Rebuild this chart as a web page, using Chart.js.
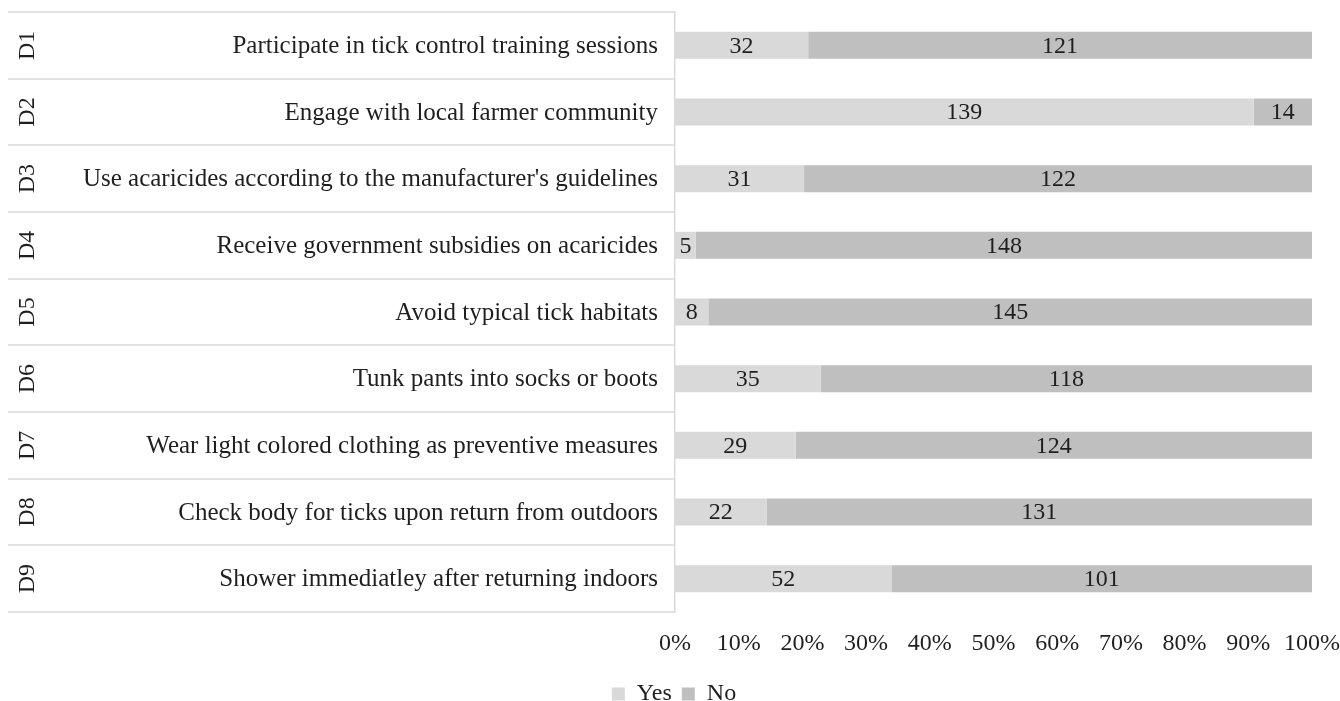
<!DOCTYPE html>
<html>
<head>
<meta charset="utf-8">
<script src="https://cdn.jsdelivr.net/npm/chart.js@4.4.0/dist/chart.umd.min.js"></script>
<style>
  html, body { margin: 0; padding: 0; background: #fff; }
  #wrap { width: 1340px; height: 701px; }
</style>
</head>
<body>
<div id="wrap"><canvas id="chart"></canvas></div>
<script>
// question codes and wording
const codes = ["D1", "D2", "D3", "D4", "D5", "D6", "D7", "D8", "D9"];
const items = [
    "Participate in tick control training sessions",
    "Engage with local farmer community",
    "Use acaricides according to the manufacturer's guidelines",
    "Receive government subsidies on acaricides",
    "Avoid typical tick habitats",
    "Tunk pants into socks or boots",
    "Wear light colored clothing as preventive measures",
    "Check body for ticks upon return from outdoors",
    "Shower immediatley after returning indoors"
];

// answer counts
const yesCounts = [32, 139, 31, 5, 8, 35, 29, 22, 52];
const noCounts = [121, 14, 122, 148, 145, 118, 124, 131, 101];

// x axis ticks (percent)
const pctTicks = [0, 10, 20, 30, 40, 50, 60, 70, 80, 90, 100];

const FONT = "'Liberation Serif', 'Times New Roman', serif";
const FSIZE = 24;
const TEXT = "#1f1f1f";
const LINE = "#d9d9d9";

const toPct = (arr) => arr.map((v, i) => v / (yesCounts[i] + noCounts[i]) * 100);

// =========================
// LABEL TABLE (row lines, rotated codes, wording)
// =========================
const rowTable = {
    id: "rowTable",
    afterDraw(chart) {
        const { ctx, chartArea, scales } = chart;
        const y = scales.y;
        const band = y.getPixelForValue(1) - y.getPixelForValue(0);
        ctx.save();
        ctx.strokeStyle = LINE;
        ctx.lineWidth = 1.5;
        for (let i = 0; i <= codes.length; i++) {
            const py = Math.round(y.getPixelForValue(i) - band / 2);
            ctx.beginPath();
            ctx.moveTo(8, py);
            ctx.lineTo(chartArea.left, py);
            ctx.stroke();
        }
        ctx.fillStyle = TEXT;
        ctx.textBaseline = "middle";
        ctx.font = FSIZE + "px " + FONT;
        codes.forEach((c, i) => {
            ctx.save();
            ctx.translate(28, y.getPixelForValue(i));
            ctx.rotate(-Math.PI / 2);
            ctx.textAlign = "center";
            ctx.fillText(c, 0, 0);
            ctx.restore();
        });
        ctx.font = "25px " + FONT;
        ctx.textAlign = "right";
        items.forEach((t, i) => {
            ctx.fillText(t, chartArea.left - 17, y.getPixelForValue(i) + 1);
        });
        ctx.restore();
    }
};

// =========================
// COUNT LABELS ON BARS
// =========================
const countLabels = {
    id: "countLabels",
    afterDatasetsDraw(chart) {
        const { ctx } = chart;
        const counts = [yesCounts, noCounts];
        ctx.save();
        ctx.fillStyle = TEXT;
        ctx.font = FSIZE + "px " + FONT;
        ctx.textAlign = "center";
        ctx.textBaseline = "middle";
        chart.data.datasets.forEach((ds, d) => {
            chart.getDatasetMeta(d).data.forEach((bar, i) => {
                const p = bar.getCenterPoint();
                ctx.fillText(String(counts[d][i]), p.x, p.y + 1);
            });
        });
        ctx.restore();
    }
};

new Chart(document.getElementById("chart"), {
    type: "bar",
    data: {
        labels: items,
        datasets: [
            { label: "Yes", data: toPct(yesCounts), backgroundColor: "#d9d9d9" },
            { label: "No", data: toPct(noCounts), backgroundColor: "#bfbfbf" }
        ]
    },
    options: {
        indexAxis: "y",
        responsive: true,
        maintainAspectRatio: false,
        animation: false,
        layout: { padding: { top: 12, left: 8, right: 0, bottom: -15 } },
        datasets: { bar: { categoryPercentage: 1, barPercentage: 0.405 } },
        scales: {
            x: {
                stacked: true,
                min: 0,
                max: 100,
                afterFit: s => { s.height = 60; },
                grid: { display: false, drawTicks: true, tickLength: 17 },
                border: { display: false },
                ticks: {
                    stepSize: 10,
                    padding: 0,
                    maxRotation: 0,
                    autoSkip: false,
                    color: TEXT,
                    font: { family: FONT, size: FSIZE },
                    callback: v => pctTicks.includes(v) ? v + "%" : ""
                }
            },
            y: {
                stacked: true,
                afterFit: s => { s.width = 667; },
                grid: { display: false, drawTicks: false },
                border: { display: true, color: LINE, width: 1.5 },
                ticks: { display: false }
            }
        },
        plugins: {
            legend: {
                position: "bottom",
                labels: {
                    color: TEXT,
                    font: { family: FONT, size: FSIZE },
                    boxWidth: 13,
                    boxHeight: 13,
                    padding: 10
                }
            },
            tooltip: { enabled: false }
        }
    },
    plugins: [rowTable, countLabels]
});
</script>
</body>
</html>
